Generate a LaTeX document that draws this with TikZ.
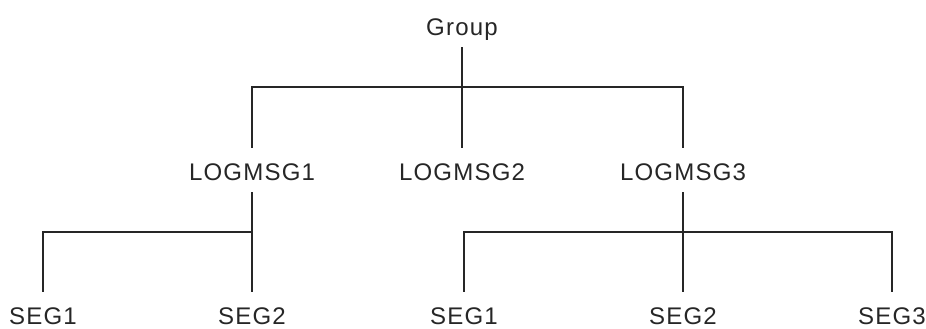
\documentclass[tikz,border=0pt]{standalone}
\usepackage{fontspec}
\setmainfont{Liberation Sans}[LetterSpace=5]
\begin{document}
\begin{tikzpicture}[
    x=0.03cm, y=-0.03cm,
    item/.style={inner sep=0pt, anchor=base, text height=0.96cm, text depth=0.36cm, font=\fontsize{20.5}{24}\selectfont, text=black!85},
    link/.style={draw=black!85, line width=1.1pt}
]
\useasboundingbox (0,0) rectangle (926,328);

% Group level
\node[item] (group) at (462, 35) {Group};

% Log messages
\node[item] (log1) at (252, 180) {LOGMSG1};
\node[item] (log2) at (462, 180) {LOGMSG2};
\node[item] (log3) at (683, 180) {LOGMSG3};

% Segments
\node[item] (seg11) at (43, 324) {SEG1};
\node[item] (seg12) at (252, 324) {SEG2};
\node[item] (seg31) at (464, 324) {SEG1};
\node[item] (seg32) at (683, 324) {SEG2};
\node[item] (seg33) at (892, 324) {SEG3};

% Junctions
\coordinate (top) at (462, 87);
\coordinate (left) at (252, 232);
\coordinate (right) at (683, 232);

% Connectors
\draw[link] (group.south) -- (log2.north);
\draw[link] (log1.north) |- (top) -| (log3.north);
\draw[link] (log1.south) -- (seg12.north);
\draw[link] (left) -| (seg11.north);
\draw[link] (log3.south) -- (seg32.north);
\draw[link] (seg31.north) |- (right) -| (seg33.north);

\end{tikzpicture}
\end{document}
